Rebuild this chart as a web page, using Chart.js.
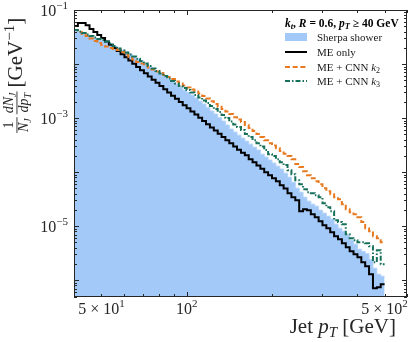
<!DOCTYPE html>
<html>
<head>
<meta charset="utf-8">
<script src="https://cdn.jsdelivr.net/npm/chart.js@4.4.1/dist/chart.umd.min.js"></script>
<style>
  html, body { margin: 0; padding: 0; background: #fff; }
  #c { display: block; }
</style>
</head>
<body>
<canvas id="c" width="415" height="342"></canvas>
<script>
// bin edges in GeV (log spaced, 40 - 500)
var edges = [40.0, 41.28, 42.61, 43.97, 45.38, 46.84, 48.34, 49.89, 51.49, 53.14,
  54.85, 56.61, 58.42, 60.30, 62.23, 64.23, 66.29, 68.41, 70.61, 72.87,
  75.21, 77.63, 80.12, 82.69, 85.34, 88.08, 90.90, 93.82, 96.83, 99.93,
  103.1, 106.5, 109.9, 113.4, 117.0, 120.8, 124.7, 128.7, 132.8, 137.0,
  141.4, 146.0, 150.6, 155.5, 160.5, 165.6, 170.9, 176.4, 182.1, 187.9,
  193.9, 200.2, 206.6, 213.2, 220.0, 227.1, 234.4, 241.9, 249.7, 257.7,
  265.9, 274.5, 283.3, 292.4, 301.7, 311.4, 321.4, 331.7, 342.4, 353.3,
  364.7, 376.4, 388.4, 400.9, 413.8, 427.0, 440.7, 454.9, 469.5, 484.5, 500.0];

var sherpa = [4.09e-2, 3.91e-2, 3.67e-2, 3.44e-2, 3.23e-2, 3.03e-2, 2.90e-2, 2.72e-2, 2.56e-2, 2.35e-2,
  2.15e-2, 1.98e-2, 1.82e-2, 1.67e-2, 1.53e-2, 1.38e-2, 1.26e-2, 1.14e-2, 1.02e-2, 9.18e-3,
  8.25e-3, 7.42e-3, 6.67e-3, 6.00e-3, 5.28e-3, 4.74e-3, 4.26e-3, 3.75e-3, 3.30e-3, 2.97e-3,
  2.67e-3, 2.35e-3, 2.06e-3, 1.82e-3, 1.56e-3, 1.35e-3, 1.19e-3, 1.02e-3, 8.80e-4, 7.42e-4,
  6.26e-4, 5.51e-4, 4.84e-4, 4.26e-4, 3.75e-4, 3.30e-4, 2.90e-4, 2.56e-4, 2.15e-4, 1.90e-4,
  1.67e-4, 1.47e-4, 1.29e-4, 1.14e-4, 9.58e-5, 8.08e-5, 6.53e-5, 5.06e-5, 4.26e-5, 3.44e-5,
  2.90e-5, 2.56e-5, 2.35e-5, 1.98e-5, 1.74e-5, 1.53e-5, 1.35e-5, 1.09e-5, 9.18e-6, 8.08e-6,
  6.81e-6, 5.51e-6, 4.64e-6, 3.75e-6, 3.40e-6, 3.10e-6, 2.40e-6, 1.67e-6, 1.29e-6, 1.19e-6];

var meOnly = [5.06e-2, 5.75e-2, 5.75e-2, 5.20e-2, 4.45e-2, 3.91e-2, 3.44e-2, 3.03e-2, 2.60e-2, 2.28e-2,
  1.99e-2, 1.74e-2, 1.52e-2, 1.33e-2, 1.16e-2, 1.01e-2, 8.84e-3, 7.71e-3, 6.73e-3, 5.89e-3,
  5.14e-3, 4.49e-3, 3.91e-3, 3.42e-3, 2.98e-3, 2.60e-3, 2.28e-3, 1.99e-3, 1.73e-3, 1.52e-3,
  1.33e-3, 1.16e-3, 1.01e-3, 8.84e-4, 7.71e-4, 6.73e-4, 5.87e-4, 5.12e-4, 4.49e-4, 3.91e-4,
  3.42e-4, 2.98e-4, 2.61e-4, 2.28e-4, 2.05e-4, 1.73e-4, 1.52e-4, 1.33e-4, 1.16e-4, 1.00e-4,
  8.80e-5, 7.74e-5, 6.80e-5, 5.75e-5, 5.00e-5, 4.09e-5, 3.44e-5, 3.03e-5, 1.90e-5, 2.06e-5,
  1.98e-5, 1.67e-5, 1.47e-5, 1.24e-5, 1.04e-5, 9.18e-6, 7.74e-6, 6.53e-6, 5.75e-6, 4.84e-6,
  4.09e-6, 3.44e-6, 3.03e-6, 2.67e-6, 2.15e-6, 1.82e-6, 1.29e-6, 7.11e-7, 7.42e-7, 8.43e-7];

var cnnK2 = [4.26e-2, 3.91e-2, 3.59e-2, 3.30e-2, 2.97e-2, 2.67e-2, 2.45e-2, 2.25e-2, 2.11e-2, 1.98e-2,
  1.90e-2, 1.82e-2, 1.67e-2, 1.50e-2, 1.35e-2, 1.21e-2, 1.09e-2, 1.02e-2, 9.38e-3, 8.61e-3,
  7.91e-3, 7.26e-3, 6.81e-3, 6.26e-3, 5.75e-3, 5.28e-3, 4.74e-3, 4.35e-3, 4.00e-3, 3.67e-3,
  3.37e-3, 3.10e-3, 2.84e-3, 2.56e-3, 2.30e-3, 2.06e-3, 1.82e-3, 1.63e-3, 1.47e-3, 1.32e-3,
  1.19e-3, 1.04e-3, 9.38e-4, 8.43e-4, 7.42e-4, 6.53e-4, 5.75e-4, 5.06e-4, 4.45e-4, 3.91e-4,
  3.44e-4, 3.10e-4, 2.78e-4, 2.45e-4, 2.20e-4, 1.98e-4, 1.74e-4, 1.41e-4, 1.24e-4, 1.04e-4,
  8.80e-5, 7.74e-5, 6.81e-5, 6.00e-5, 5.06e-5, 4.45e-5, 3.91e-5, 3.44e-5, 3.16e-5, 2.56e-5,
  2.06e-5, 1.82e-5, 1.67e-5, 1.47e-5, 1.19e-5, 9.18e-6, 8.08e-6, 6.53e-6, 6.00e-6, 5.06e-6];

var cnnK3 = [4.26e-2, 4.00e-2, 3.75e-2, 3.52e-2, 3.30e-2, 3.10e-2, 2.90e-2, 2.78e-2, 2.61e-2, 2.40e-2,
  2.15e-2, 1.94e-2, 1.78e-2, 1.63e-2, 1.50e-2, 1.38e-2, 1.26e-2, 1.14e-2, 1.02e-2, 9.18e-3,
  8.25e-3, 7.42e-3, 6.67e-3, 6.00e-3, 5.39e-3, 4.84e-3, 4.35e-3, 3.91e-3, 3.59e-3, 3.30e-3,
  2.97e-3, 2.67e-3, 2.40e-3, 2.11e-3, 1.90e-3, 1.67e-3, 1.47e-3, 1.29e-3, 1.14e-3, 1.00e-3,
  8.61e-4, 7.58e-4, 6.81e-4, 6.00e-4, 5.06e-4, 4.45e-4, 3.91e-4, 3.44e-4, 2.97e-4, 2.56e-4,
  2.15e-4, 1.98e-4, 1.74e-4, 1.53e-4, 1.35e-4, 1.09e-4, 9.18e-5, 7.11e-5, 6.00e-5, 4.84e-5,
  4.26e-5, 4.09e-5, 3.75e-5, 3.44e-5, 2.67e-5, 2.25e-5, 1.90e-5, 1.29e-5, 1.19e-5, 1.09e-5,
  7.11e-6, 6.00e-6, 5.51e-6, 5.06e-6, 5.06e-6, 4.84e-6, 4.26e-6, 2.15e-6, 3.59e-6, 1.98e-6];

var xTickValues = [50, 100, 500];
var xTickBase = ['5 × 10', '10', '5 × 10'];
var xTickSup = ['1', '2', '2'];
var yTickValues = [1e-1, 1e-3, 1e-5];
var yTickSup = ['−1', '−3', '−5'];

var SERIF = "'Liberation Serif', 'DejaVu Serif', serif";
function font(size, style) { return (style || '') + ' ' + size + 'px ' + SERIF; }

function steps(vals) {
	return edges.map(function(e, i) {
		return { x: e, y: vals[Math.min(i, vals.length - 1)] };
	});
}

// draw a list of text pieces one after the other, returns the width
function runs(ctx, x, y, parts, measureOnly) {
	var cx = x;
	parts.forEach(function(p) {
		ctx.font = p.f;
		if (!measureOnly) ctx.fillText(p.t, cx, y + (p.dy || 0));
		cx += ctx.measureText(p.t).width + (p.sp || 0);
	});
	return cx - x;
}

var decorations = {
	id: 'decorations',
	afterDraw: function(chart) {
		var ctx = chart.ctx;
		var a = chart.chartArea;
		var xs = chart.scales.x, ys = chart.scales.y;
		var ink = '#262626';
		ctx.save();
		ctx.strokeStyle = ink;
		ctx.fillStyle = ink;
		ctx.lineWidth = 1;

		// frame
		ctx.strokeRect(a.left + 0.5, a.top + 0.5, a.right - a.left - 1, a.bottom - a.top - 1);

		// x ticks (inward, bottom and top)
		for (var e = 1; e <= 3; e++) {
			for (var m = 1; m <= 9; m++) {
				var v = m * Math.pow(10, e);
				if (v < xs.min || v > xs.max) continue;
				var px = Math.round(xs.getPixelForValue(v)) + 0.5;
				var len = m === 1 ? 5 : 3;
				ctx.beginPath();
				ctx.moveTo(px, a.bottom); ctx.lineTo(px, a.bottom - len);
				ctx.moveTo(px, a.top); ctx.lineTo(px, a.top + len);
				ctx.stroke();
			}
		}
		// y ticks (inward, left and right)
		for (var e2 = -7; e2 <= -1; e2++) {
			for (var m2 = 1; m2 <= 9; m2++) {
				var v2 = m2 * Math.pow(10, e2);
				if (v2 < ys.min * 0.999 || v2 > ys.max * 1.001) continue;
				var py = Math.round(ys.getPixelForValue(v2)) + 0.5;
				var len2 = m2 === 1 ? 5 : 3;
				ctx.beginPath();
				ctx.moveTo(a.left, py); ctx.lineTo(a.left + len2, py);
				ctx.moveTo(a.right, py); ctx.lineTo(a.right - len2, py);
				ctx.stroke();
			}
		}

		// tick labels
		ctx.textBaseline = 'alphabetic';
		ctx.textAlign = 'left';
		xTickValues.forEach(function(v, i) {
			var parts = [{ t: xTickBase[i], f: font(16) }, { t: xTickSup[i], f: font(11), dy: -7 }];
			var w = runs(ctx, 0, 0, parts, true);
			runs(ctx, xs.getPixelForValue(v) - w / 2, a.bottom + 17, parts);
		});
		yTickValues.forEach(function(v, i) {
			var parts = [{ t: '10', f: font(16) }, { t: yTickSup[i], f: font(11), dy: -7 }];
			var w = runs(ctx, 0, 0, parts, true);
			runs(ctx, a.left - 6 - w, ys.getPixelForValue(v) + 5.5, parts);
		});

		// x title, right aligned
		var xt = [{ t: 'Jet ', f: font(21) }, { t: 'p', f: font(21, 'italic') },
			{ t: 'T', f: font(15, 'italic'), dy: 4 }, { t: ' [GeV]', f: font(21) }];
		var xw = runs(ctx, 0, 0, xt, true);
		runs(ctx, 396 - xw, 333, xt);

		// y title, rotated, starting near the top
		ctx.save();
		ctx.translate(17, 134);
		ctx.rotate(-Math.PI / 2);
		function frac(u0, num, den) {
			var wn = runs(ctx, 0, 0, num, true);
			var wd = runs(ctx, 0, 0, den, true);
			var w = Math.max(wn, wd) + 2;
			runs(ctx, u0 + (w - wn) / 2, -4, num);
			runs(ctx, u0 + (w - wd) / 2, 11, den);
			ctx.fillRect(u0, -0.5, w, 0.9);
			return w;
		}
		var u = 1;
		u += frac(u, [{ t: '1', f: font(14) }],
			[{ t: 'N', f: font(14, 'italic') }, { t: 'J', f: font(10, 'italic'), dy: 3 }]) + 3;
		u += frac(u, [{ t: 'd', f: font(14, 'italic') }, { t: 'N', f: font(14, 'italic') }, { t: 'J', f: font(10, 'italic'), dy: 3 }],
			[{ t: 'dp', f: font(14, 'italic') }, { t: 'T', f: font(10, 'italic'), dy: 3 }]) + 4;
		runs(ctx, u, 5, [{ t: '[GeV', f: font(21) }, { t: '−1', f: font(15), dy: -8 }, { t: ']', f: font(21) }]);
		ctx.restore();

		// legend
		var ds = chart.data.datasets;
		ctx.fillStyle = '#000';
		var title = [{ t: 'k', f: font(11.5, 'bold italic') }, { t: 't', f: font(8.5, 'bold italic'), dy: 2 },
			{ t: ', ', f: font(11.5, 'bold') }, { t: 'R', f: font(11.5, 'bold italic') },
			{ t: ' = 0.6, ', f: font(11.5, 'bold') }, { t: 'p', f: font(11.5, 'bold italic') },
			{ t: 'T', f: font(8.5, 'bold italic'), dy: 2 }, { t: ' ≥ 40 GeV', f: font(11.5, 'bold') }];
		runs(ctx, 285, 27, title);

		var rows = [37, 52, 67, 81];
		var hx0 = 285, hx1 = 307, tx = 317;
		// patch
		ctx.fillStyle = ds[0].backgroundColor;
		ctx.fillRect(hx0, rows[0] - 4, hx1 - hx0, 8);
		for (var r = 1; r < 4; r++) {
			ctx.save();
			ctx.strokeStyle = ds[r].borderColor;
			ctx.lineWidth = ds[r].borderWidth;
			ctx.setLineDash(ds[r].borderDash || []);
			ctx.beginPath();
			ctx.moveTo(hx0, rows[r]); ctx.lineTo(hx1, rows[r]);
			ctx.stroke();
			ctx.restore();
		}
		ctx.fillStyle = '#1a1a1a';
		runs(ctx, tx, rows[0] + 4, [{ t: 'Sherpa shower', f: font(11) }]);
		runs(ctx, tx, rows[1] + 4, [{ t: 'ME only', f: font(11) }]);
		runs(ctx, tx, rows[2] + 4, [{ t: 'ME + CNN ', f: font(11) }, { t: 'k', f: font(11, 'italic') }, { t: '2', f: font(8), dy: 2 }]);
		runs(ctx, tx, rows[3] + 4, [{ t: 'ME + CNN ', f: font(11) }, { t: 'k', f: font(11, 'italic') }, { t: '3', f: font(8), dy: 2 }]);
		ctx.restore();
	}
};

var ctx1 = document.getElementById('c').getContext('2d');
var chart1 = new Chart(ctx1, {
	type: 'line',
	data: {
		datasets: [
			{
				label: 'Sherpa shower',
				data: steps(sherpa),
				stepped: true,
				fill: 'start',
				backgroundColor: '#a3c9f8',
				borderColor: '#b3d3fa',
				borderWidth: 1,
				pointRadius: 0,
				order: 4
			},
			{
				label: 'ME only',
				data: steps(meOnly),
				stepped: true,
				fill: false,
				borderColor: '#000000',
				borderWidth: 2,
				pointRadius: 0,
				order: 3
			},
			{
				label: 'ME + CNN k2',
				data: steps(cnnK2),
				stepped: true,
				fill: false,
				borderColor: '#e8791f',
				borderWidth: 2,
				borderDash: [5, 2.7],
				pointRadius: 0,
				order: 2
			},
			{
				label: 'ME + CNN k3',
				data: steps(cnnK3),
				stepped: true,
				fill: false,
				borderColor: '#16705a',
				borderWidth: 2,
				borderDash: [5, 2, 1.5, 2],
				pointRadius: 0,
				order: 1
			}
		]
	},
	options: {
		responsive: false,
		animation: false,
		devicePixelRatio: 1,
		layout: { padding: { top: 10, right: 8, left: 0, bottom: 0 } },
		plugins: { legend: { display: false }, tooltip: { enabled: false } },
		scales: {
			x: {
				type: 'logarithmic',
				min: 40,
				max: 600,
				grid: { display: false, drawTicks: false },
				border: { display: false },
				ticks: { display: false },
				afterFit: function(s) { s.height = 45; }
			},
			y: {
				type: 'logarithmic',
				min: 4.9e-7,
				max: 0.1,
				grid: { display: false, drawTicks: false },
				border: { display: false },
				ticks: { display: false },
				afterFit: function(s) { s.width = 74; }
			}
		}
	},
	plugins: [decorations]
});
</script>
</body>
</html>
